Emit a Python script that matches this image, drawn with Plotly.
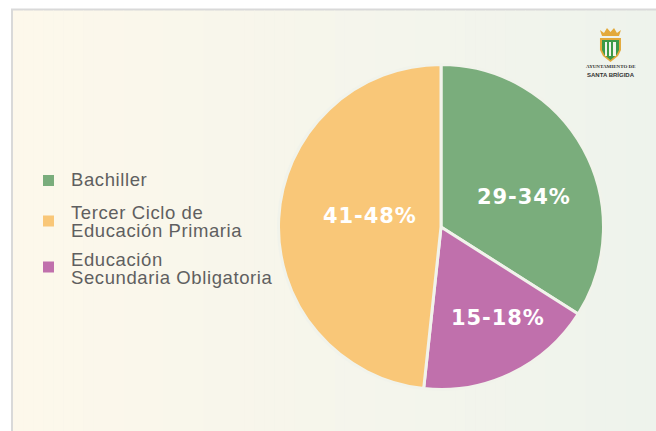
import plotly.graph_objects as go

W, H = 656, 431
categories = ["Bachiller", "Educación Secundaria Obligatoria", "Tercer Ciclo de Educación Primaria"]
legend_lines = [["Bachiller"], ["Tercer Ciclo de", "Educación Primaria"], ["Educación", "Secundaria Obligatoria"]]
legend_colors = ["#7AAD7C", "#F9C778", "#C070AC"]
values = [34, 17.7, 48.3]
labels = ["29-34%", "15-18%", "41-48%"]
colors = ["#7AAD7C", "#C070AC", "#F9C778"]
pad_colors = ("#FDF8EB", "#EEF3EC")
FONT = "Liberation Sans"
TEXT = "#5F5F60"

def px(x): return x / W
def py(y): return 1 - y / H
def mix(a, b, t):
    ca = [int(a[i:i+2], 16) for i in (1, 3, 5)]
    cb = [int(b[i:i+2], 16) for i in (1, 3, 5)]
    return "rgb(%d,%d,%d)" % tuple(round(u + (v - u) * t) for u, v in zip(ca, cb))

shapes = []
# panel frame and gradient
shapes.append(dict(type="rect", xref="paper", yref="paper", x0=px(11), x1=1, y0=0, y1=py(8.5),
                   fillcolor="#D9D9D9", line_width=0, layer="below"))
N = 64
x0, x1 = 13, W
for i in range(N):
    a = x0 + (x1 - x0) * i / N
    b = x0 + (x1 - x0) * (i + 1) / N + 0.6
    shapes.append(dict(type="rect", xref="paper", yref="paper", x0=px(a), x1=px(b), y0=0, y1=py(10.5),
                       fillcolor=mix(*pad_colors, i / (N - 1)), line_width=0, layer="below"))

annotations = []
def text(x, y, s, size, color=TEXT, anchor="left", family=FONT):
    annotations.append(dict(xref="paper", yref="paper", x=px(x), y=py(y), text=s, showarrow=False,
                            xanchor=anchor, yanchor="middle", align=anchor,
                            font=dict(family=family, size=size, color=color), borderpad=0, borderwidth=0))

# legend
square_y = [180.5, 221, 267]
text_y = [179.5, 221.5, 268.5]
for lines, c, sy, ty in zip(legend_lines, legend_colors, square_y, text_y):
    shapes.append(dict(type="rect", xref="paper", yref="paper", x0=px(43), x1=px(54), y0=py(sy + 5.5), y1=py(sy - 5.5),
                       fillcolor=c, line_width=0))
    n = len(lines)
    for k, line in enumerate(lines):
        text(70.5, ty + (k - (n - 1) / 2) * 18, '<span style="letter-spacing:0.6px">%s</span>' % line, 18.5)

# pie labels
label_pos = [(524, 196.5), (498, 318), (369.5, 216.5)]
for s, (x, y) in zip(labels, label_pos):
    annotations.append(dict(xref="paper", yref="paper", x=px(x), y=py(y),
                            text='<span style="letter-spacing:0.9px"><b>%s</b></span>' % s, showarrow=False,
                            xanchor="center", yanchor="middle",
                            font=dict(family="DejaVu Sans", size=21, color="white")))

# logo
def P(points):
    return "M" + " L".join("%.4f,%.4f" % (px(x), py(y)) for x, y in points) + " Z"
shapes.append(dict(type="path", xref="paper", yref="paper",
                   path=P([(600, 38), (621, 38), (621, 50), (618, 56), (610.5, 62), (603, 56), (600, 50)]),
                   fillcolor="#E3A93B", line_width=0))
shapes.append(dict(type="path", xref="paper", yref="paper",
                   path=P([(602, 40), (619, 40), (619, 50), (616.5, 55), (610.5, 60), (604.5, 55), (602, 50)]),
                   fillcolor="#3C9A48", line_width=0))
for a, b in [(605, 607), (609, 611), (613, 616)]:
    shapes.append(dict(type="rect", xref="paper", yref="paper", x0=px(a), x1=px(b), y0=py(56), y1=py(42),
                       fillcolor="#F3F5EC", line_width=0))
shapes.append(dict(type="path", xref="paper", yref="paper",
                   path=P([(600, 30), (604, 33), (607, 28), (610.5, 32), (614, 28), (617, 33), (621, 30), (619, 36), (602, 36)]),
                   fillcolor="#E3A93B", line_width=0))
text(610.5, 66.5, "<b>AYUNTAMIENTO DE</b>", 5, "#333333", "center", "Liberation Serif")
text(610.5, 74, "<b>SANTA BRÍGIDA</b>", 6, "#333333", "center", "Liberation Sans")

fig = go.Figure(go.Pie(
    labels=categories, values=values, marker=dict(colors=colors, line=dict(color="#F1F3EB", width=3)),
    sort=False, direction="clockwise", rotation=0, textinfo="none", hoverinfo="label",
    domain=dict(x=[px(278.5), px(603.5)], y=[py(389.5), py(64.5)]), showlegend=False,
))
fig.update_layout(width=W, height=H, margin=dict(l=0, r=0, t=0, b=0), paper_bgcolor="white",
                  shapes=shapes, annotations=annotations, showlegend=False, font=dict(family=FONT))
fig.write_html("out.html", config=dict(displayModeBar=False),
               post_script="document.body.style.margin='0';document.documentElement.style.overflow='hidden';")
